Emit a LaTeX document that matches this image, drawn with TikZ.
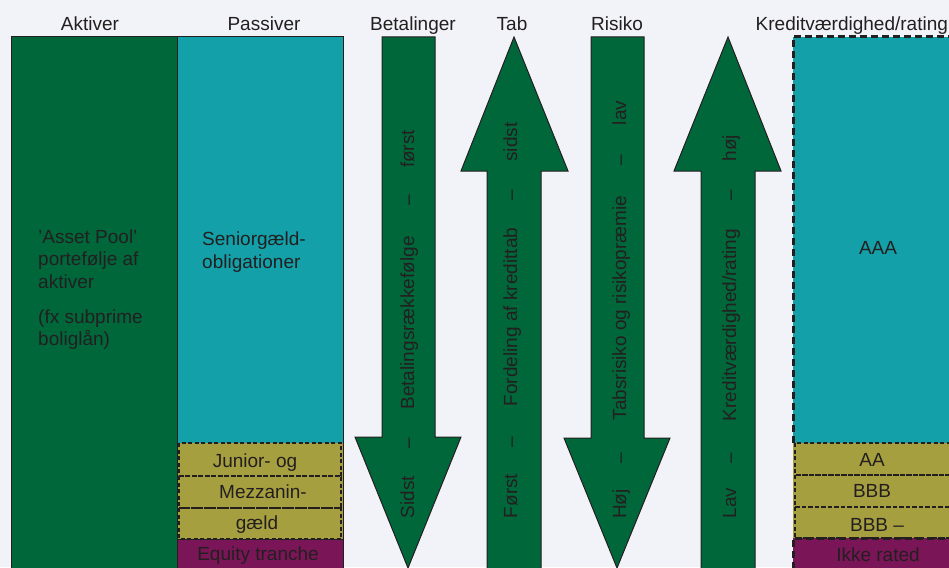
\documentclass[tikz,border=0pt]{standalone}
\usepackage{fontspec}
\setmainfont{Liberation Sans}
\definecolor{bg}{HTML}{F2F3F8}
\definecolor{dgreen}{HTML}{00673A}
\definecolor{tealc}{HTML}{13A0A8}
\definecolor{olivec}{HTML}{A69F40}
\definecolor{purpc}{HTML}{7A1557}
\definecolor{ink}{HTML}{231F20}
\begin{document}
\begin{tikzpicture}[x=1pt,y=-1pt,
  font=\fontsize{19}{22.5}\selectfont,
  every node/.style={inner sep=0pt, text=ink},
  box/.style={draw=ink, line width=1pt},
  arr/.style={draw=ink, line width=1pt, fill=dgreen, line join=miter},
  thindash/.style={draw=ink, line width=1.3pt, dash pattern=on 4pt off 2.5pt},
  thickdash/.style={draw=ink, line width=3pt, dash pattern=on 7pt off 4pt},
  lbl/.style={anchor=base},
  lbll/.style={anchor=base west},
  rot/.style={anchor=base, rotate=90}]
\fill[bg] (0,0) rectangle (949,567);
\useasboundingbox (0,0) rectangle (949,567);
\clip (0,0) rectangle (949,567);
% titles
\node[lbl] (tA) at (90,31) {Aktiver};
\node[lbl] (tP) at (264,31) {Passiver};
\node[lbl] (tB) at (413,31) {Betalinger};
\node[lbl] (tT) at (512,31) {Tab};
\node[lbl] (tR) at (617,31) {Risiko};
\node[lbll] (tK) at (755.5,31) {Kreditværdighed/rating};
% Aktiver
\path[box, fill=dgreen] (11,37) rectangle (177,580);
\node[lbll] (a1) at (38,243) {’Asset Pool’};
\node[lbll] (a2) at (38,265.5) {portefølje af};
\node[lbll] (a3) at (38,288) {aktiver};
\node[lbll] (a4) at (38,323) {(fx subprime};
\node[lbll] (a5) at (38,345.5) {boliglån)};
% Passiver
\path[fill=tealc] (177,37) rectangle (343,443);
\path[fill=olivec] (177,443) rectangle (343,539);
\path[fill=purpc] (177,539) rectangle (343,580);
\path[thindash] (179,443) rectangle (341,476);
\path[thindash] (179,476) rectangle (341,508);
\path[thindash] (179,508) rectangle (341,539);
\path[box] (177,37) rectangle (343,580);
\draw[box] (177,539) -- (343,539);
\node[lbll] (p1) at (202,245) {Seniorgæld-};
\node[lbll] (p2) at (202,268) {obligationer};
\node[lbl] (p3) at (255,467) {Junior- og};
\node[lbl] (p4) at (263,498) {Mezzanin-};
\node[lbl] (p5) at (257,529) {gæld};
\node[lbl] (p6) at (258,560) {Equity tranche};
% Betalinger arrow (down)
\path[arr] (382,37) -- (435,37) -- (435,437) -- (461,437) -- (408,568) -- (355,437) -- (382,437) -- cycle;
\node[rot] (b1) at (414,149) {først};
\node[rot] (b2) at (414,200) {–};
\node[rot] (b3) at (414,323) {Betalingsrækkefølge};
\node[rot] (b4) at (414,443) {–};
\node[rot] (b5) at (414,497) {Sidst};
% Tab arrow (up)
\path[arr] (514,37) -- (568,171) -- (541,171) -- (541,590) -- (487,590) -- (487,171) -- (461,171) -- cycle;
\node[rot] (c1) at (517,142) {sidst};
\node[rot] (c2) at (517,195) {–};
\node[rot] (c3) at (517,317) {Fordeling af kredittab};
\node[rot] (c4) at (517,442) {–};
\node[rot] (c5) at (517,496) {Først};
% Risiko arrow (down)
\path[arr] (591,37) -- (644,37) -- (644,438) -- (670,438) -- (617,568) -- (564,438) -- (591,438) -- cycle;
\node[rot] (r1) at (626,113) {lav};
\node[rot] (r2) at (626,160) {–};
\node[rot] (r3) at (626,308) {Tabsrisiko og risikopræmie};
\node[rot] (r4) at (626,458) {–};
\node[rot] (r5) at (626,504) {Høj};
% Kredit arrow (up)
\path[arr] (728,37) -- (781,171) -- (755,171) -- (755,590) -- (701,590) -- (701,171) -- (674,171) -- cycle;
\node[rot] (k1) at (736,148) {høj};
\node[rot] (k2) at (736,195) {–};
\node[rot] (k3) at (736,325) {Kreditværdighed/rating};
\node[rot] (k4) at (736,458) {–};
\node[rot] (k5) at (736,503) {Lav};
% Rating column
\path[fill=tealc] (793,37) rectangle (961,443);
\path[fill=olivec] (793,443) rectangle (961,538);
\path[fill=purpc] (793,538) rectangle (961,580);
\path[thindash] (795,443) rectangle (961,475);
\path[thindash] (795,475) rectangle (961,507);
\path[thindash] (795,507) rectangle (961,538);
\path[thickdash] (793,443) -- (793,37) -- (961,37);
\path[thickdash] (793,580) -- (793,538) -- (961,538);
\node[lbl] (k6) at (878,254) {AAA};
\node[lbl] (k7) at (872,466) {AA};
\node[lbl] (k8) at (872,497) {BBB};
\node[lbl] (k9) at (877,531) {BBB –};
\node[lbl] (k10) at (878,561) {Ikke rated};
\end{tikzpicture}
\end{document}
